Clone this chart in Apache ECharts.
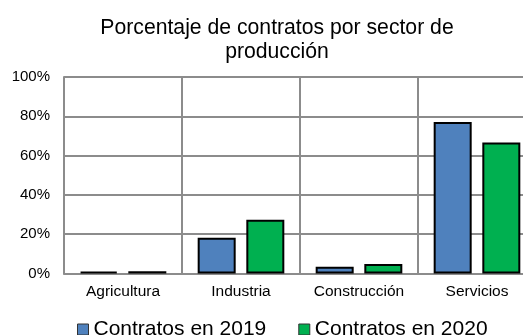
<!DOCTYPE html>
<html>
<head>
<meta charset="utf-8">
<script src="https://cdn.jsdelivr.net/npm/echarts@6/dist/echarts.min.js"></script>
<style>html,body{margin:0;padding:0;background:#fff;overflow:hidden;width:523px;height:335px}#c{width:545px;height:335px}</style>
</head>
<body>
<div id="c"></div>
<script>
const categories = ['Agricultura', 'Industria', 'Construcción', 'Servicios'];
const series2019 = [0.9, 18.2, 3.4, 77.1];
const series2020 = [1.1, 27.4, 4.8, 66.7];
const seriesNames = ['Contratos en 2019', 'Contratos en 2020'];
const yTicks = [0, 20, 40, 60, 80, 100];

const FONT = '"Liberation Sans", Arial, sans-serif';
const chart = echarts.init(document.getElementById('c'));
chart.setOption({
  animation: false,
  textStyle: { fontFamily: FONT },
  title: {
    text: 'Porcentaje de contratos por sector de\nproducción',
    left: 272, top: 11, textAlign: 'center',
    textStyle: { fontFamily: FONT, fontSize: 21.2, fontWeight: 'normal', color: '#000', lineHeight: 24 }
  },
  legend: {
    left: 72, top: 314,
    itemWidth: 11, itemHeight: 11, itemGap: 32,
    icon: 'rect',
    itemStyle: { borderColor: '#333', borderWidth: 1 },
    textStyle: { fontFamily: FONT, fontSize: 21, color: '#000' },
    data: seriesNames
  },
  grid: { left: 64, top: 77, width: 472, height: 196.5, containLabel: false },
  xAxis: {
    type: 'category', data: categories,
    axisLine: { show: true, lineStyle: { color: '#8c8c8c', width: 2 } },
    axisTick: { show: false },
    axisLabel: { fontFamily: FONT, fontSize: 15.5, color: '#000', margin: 10, interval: 0 },
    splitLine: { show: true, interval: 0, lineStyle: { color: '#8c8c8c', width: 2 } }
  },
  yAxis: {
    type: 'value', min: yTicks[0], max: yTicks[yTicks.length - 1], interval: 20,
    axisLine: { show: true, lineStyle: { color: '#8c8c8c', width: 2 } },
    axisTick: { show: false },
    axisLabel: { fontFamily: FONT, fontSize: 15, color: '#000', margin: 14, formatter: '{value}%' },
    splitLine: { show: true, lineStyle: { color: '#8c8c8c', width: 2 } }
  },
  series: [
    { name: seriesNames[0], type: 'bar', data: series2019, barWidth: 38, barGap: '28%',
      itemStyle: { color: '#4F81BD', borderColor: '#000', borderWidth: 2 } },
    { name: seriesNames[1], type: 'bar', data: series2020, barWidth: 38, barGap: '28%',
      itemStyle: { color: '#00B050', borderColor: '#000', borderWidth: 2 } }
  ]
});
</script>
</body>
</html>
